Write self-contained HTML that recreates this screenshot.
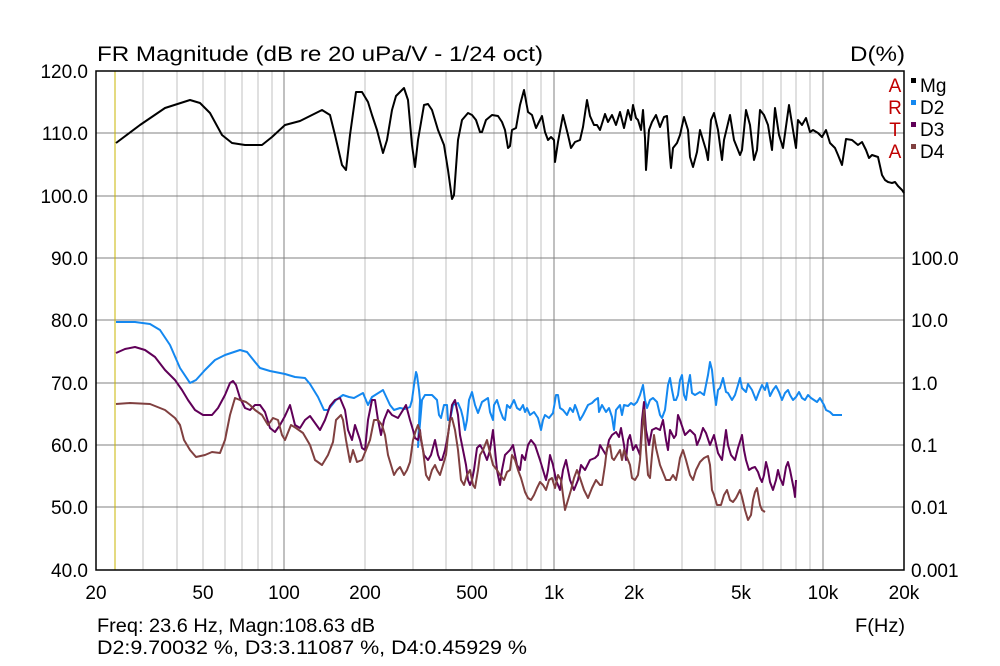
<!DOCTYPE html>
<html><head><meta charset="utf-8"><style>
body{margin:0;background:#fff}
svg{display:block;font-family:"Liberation Sans",Arial,sans-serif}
</style></head><body>
<svg width="1000" height="666" viewBox="0 0 1000 666" xmlns="http://www.w3.org/2000/svg">
<rect width="1000" height="666" fill="#fff"/>
<g stroke="#c0c0c0" stroke-width="1">
<line x1="143" y1="71" x2="143" y2="570"/><line x1="177" y1="71" x2="177" y2="570"/><line x1="203" y1="71" x2="203" y2="570"/><line x1="225" y1="71" x2="225" y2="570"/><line x1="242" y1="71" x2="242" y2="570"/><line x1="258" y1="71" x2="258" y2="570"/><line x1="272" y1="71" x2="272" y2="570"/>
<line x1="365" y1="71" x2="365" y2="570"/><line x1="413" y1="71" x2="413" y2="570"/><line x1="446" y1="71" x2="446" y2="570"/><line x1="472" y1="71" x2="472" y2="570"/><line x1="494" y1="71" x2="494" y2="570"/><line x1="512" y1="71" x2="512" y2="570"/><line x1="527" y1="71" x2="527" y2="570"/><line x1="541" y1="71" x2="541" y2="570"/>
<line x1="634" y1="71" x2="634" y2="570"/><line x1="682" y1="71" x2="682" y2="570"/><line x1="715" y1="71" x2="715" y2="570"/><line x1="741" y1="71" x2="741" y2="570"/><line x1="763" y1="71" x2="763" y2="570"/><line x1="781" y1="71" x2="781" y2="570"/><line x1="796" y1="71" x2="796" y2="570"/><line x1="810" y1="71" x2="810" y2="570"/>
</g>
<g stroke="#808080" stroke-width="1">
<line x1="284" y1="71" x2="284" y2="570"/><line x1="554" y1="71" x2="554" y2="570"/><line x1="823" y1="71" x2="823" y2="570"/>
<line x1="96" y1="133" x2="904" y2="133"/><line x1="96" y1="196" x2="904" y2="196"/><line x1="96" y1="258" x2="904" y2="258"/><line x1="96" y1="320" x2="904" y2="320"/><line x1="96" y1="383" x2="904" y2="383"/><line x1="96" y1="445" x2="904" y2="445"/><line x1="96" y1="507" x2="904" y2="507"/>
</g>
<line x1="115" y1="71" x2="115" y2="570" stroke="#c8b400" stroke-width="1"/>
<rect x="96" y="71" width="808" height="499" fill="none" stroke="#000" stroke-width="1.5"/>
<g fill="none" stroke-width="2" stroke-linejoin="round">
<polyline stroke="#1488f0" points="116,322 135,322 150,324 160,330 170,345 180,368 190,383 196,380 205,370 215,360 225,355 240,350 247,352 255,362 260,368 270,371 285,374 295,377 305,378 310,384 318,397 324,410 328,410 332,405 336,400 343,395 349,397 354,398 363,393 368,405 372,397 383,390 390,405 394,410 400,408 405,409 410,407 412,400 414,385 416,372 417,375 419,390 420,400 418,447 422,400 425,395 432,395 437,400 439,415 441,418 444,405 447,405 448,420 450,420 453,405 458,403 461,410 463,418 465,430 467,420 469,400 472,392 475,405 478,413 482,402 485,400 488,398 490,412 493,420 494,405 497,400 500,410 503,418 505,420 507,405 510,408 514,400 517,408 520,410 523,405 525,412 527,408 530,415 534,412 538,418 541,430 543,420 545,415 549,418 553,413 556,395 558,395 560,408 563,410 567,415 570,408 573,412 575,405 577,410 580,420 583,415 588,405 592,403 595,400 598,398 599,412 602,405 606,412 609,408 612,417 614,430 616,410 620,405 622,415 624,405 628,406 631,403 634,405 637,402 640,395 643,385 645,400 647,408 650,400 653,398 657,402 660,415 662,418 665,410 668,385 670,378 672,390 674,400 676,400 678,395 680,380 682,375 684,395 686,400 688,385 690,375 692,393 695,395 700,392 704,395 706,385 708,375 710,362 712,370 714,390 716,405 718,390 720,388 723,378 726,392 728,393 732,400 735,395 738,385 740,378 742,388 746,392 748,384 752,390 756,400 759,392 762,385 765,390 767,383 770,396 773,390 776,386 779,392 782,400 785,393 788,390 790,395 793,400 796,397 799,392 802,398 805,400 808,395 811,398 814,400 817,402 820,398 824,405 826,410 830,412 833,415 842,415"/>
<polyline stroke="#600058" points="116,353 125,349 135,347 145,350 155,357 165,370 175,380 182,390 188,400 195,410 203,415 212,415 218,408 225,395 230,383 233,381 236,385 240,398 245,408 250,410 255,405 260,405 265,412 270,428 275,432 280,425 285,416 290,405 295,425 300,428 305,420 310,416 315,423 320,430 325,420 330,406 335,400 340,398 345,410 348,430 352,440 355,425 360,440 362,448 365,450 368,420 372,400 375,400 378,420 381,435 384,420 388,410 392,415 398,418 403,410 406,405 410,420 413,430 415,438 418,440 420,430 421,440 424,455 428,460 431,455 435,440 438,455 440,460 442,460 445,450 448,435 450,420 452,405 455,400 458,415 460,435 463,450 466,465 468,480 470,485 472,480 474,470 477,448 480,445 483,450 487,460 490,450 493,430 495,450 497,470 500,485 502,470 505,455 510,450 513,445 517,465 520,470 522,455 525,460 528,445 531,440 535,445 540,460 543,470 546,480 548,470 550,455 553,465 556,480 560,490 563,470 566,460 570,480 574,490 578,480 581,465 585,470 590,460 595,458 598,455 600,445 603,450 606,455 609,440 612,435 616,432 619,437 621,428 624,445 626,460 628,440 630,435 633,450 636,445 640,455 642,420 644,402 646,430 649,445 652,430 656,428 660,430 663,420 666,440 668,450 670,430 674,438 676,435 678,415 680,420 685,435 690,430 695,435 697,445 700,438 703,428 706,433 710,445 714,435 718,453 722,460 724,445 726,430 728,445 731,455 735,460 738,448 742,435 744,450 746,460 749,470 752,468 755,467 758,472 760,478 762,482 764,475 766,462 768,470 770,482 773,490 776,480 778,470 780,478 783,485 786,467 788,462 790,470 792,480 794,490 795,497 796,480"/>
<polyline stroke="#804040" points="116,404 130,403 150,404 165,410 175,418 180,425 184,440 190,450 196,457 205,455 212,452 220,453 225,440 230,415 235,398 240,400 246,402 250,405 255,410 262,415 268,425 273,418 278,420 282,435 285,440 291,425 296,428 303,433 310,445 315,460 322,465 328,455 333,442 336,420 341,415 343,420 346,440 350,462 353,450 357,462 362,460 366,450 370,440 374,420 378,420 382,425 385,435 388,455 391,465 394,475 397,470 400,467 404,475 407,470 410,462 413,440 416,430 418,425 420,432 423,450 426,475 429,480 432,470 435,465 437,470 440,475 443,465 446,455 448,435 450,420 452,418 455,430 458,450 461,480 464,485 467,475 470,470 473,485 475,488 478,470 480,455 483,450 487,440 490,453 493,465 497,470 500,475 504,480 507,472 510,470 512,455 515,460 518,470 521,478 525,492 528,498 531,500 534,495 537,488 540,482 543,485 546,490 549,480 552,478 555,488 558,475 561,480 563,495 565,510 568,500 571,490 574,478 577,470 580,478 584,490 588,498 592,488 596,480 600,485 602,485 605,465 607,448 610,445 612,458 614,460 617,455 620,450 622,460 624,450 626,455 630,465 632,478 635,480 638,475 640,460 642,432 644,410 646,450 648,475 650,478 652,455 654,435 656,448 660,465 662,470 666,480 670,480 673,475 676,480 678,470 680,458 683,450 686,460 690,475 693,480 696,470 700,462 704,458 708,456 710,465 712,490 714,495 717,505 721,505 724,495 727,490 730,500 733,502 736,498 740,490 742,497 745,510 748,520 751,515 753,500 755,492 757,488 760,505 762,510 765,512"/>
<polyline stroke="#000" points="116,143 140,125 165,108 190,100 200,103 210,113 222,135 232,143 245,145 262,145 272,137 285,125 300,121 322,110 330,115 335,135 342,165 346,170 350,135 356,92 362,92 368,102 372,115 377,130 383,153 387,140 392,110 396,96 404,88 408,100 412,145 415,167 418,140 424,105 428,104 432,110 438,130 444,145 448,170 452,199 454,195 458,140 462,120 468,113 472,115 476,120 480,132 482,132 486,120 492,115 498,116 502,122 505,130 508,148 510,146 512,130 516,128 520,105 524,90 528,112 532,115 536,128 542,116 545,132 548,140 551,137 554,140 555,162 558,142 563,115 568,135 571,148 575,142 580,140 583,127 587,100 590,116 594,125 597,125 600,130 605,114 608,122 612,115 616,125 620,112 624,128 628,110 631,120 633,105 636,118 638,120 641,130 643,110 645,138 646,170 649,130 652,122 656,115 660,127 664,117 667,116 670,157 671,168 673,148 677,143 680,135 684,117 688,130 690,157 693,167 697,152 700,130 706,150 708,160 711,120 714,113 718,130 722,160 724,140 730,115 734,140 740,155 742,150 746,110 750,125 754,160 757,150 760,110 764,115 768,125 772,150 775,108 779,135 783,148 789,105 793,130 796,148 798,120 802,125 806,118 810,132 813,130 818,133 822,137 826,130 830,143 835,148 838,155 842,165 846,139 852,140 858,145 862,142 866,150 869,158 872,155 878,157 882,175 885,180 888,182 892,183 895,182 898,186 902,190 904,193"/>
</g>
<g font-size="21" fill="#000">
<text x="97" y="61" textLength="446" lengthAdjust="spacingAndGlyphs">FR Magnitude (dB re 20 uPa/V - 1/24 oct)</text>
<text x="850" y="61" textLength="55" lengthAdjust="spacingAndGlyphs">D(%)</text>
</g>
<g font-size="19" fill="#000" text-anchor="end">
<text x="88" y="78">120.0</text><text x="88" y="140">110.0</text><text x="88" y="203">100.0</text><text x="88" y="265">90.0</text><text x="88" y="327">80.0</text><text x="88" y="390">70.0</text><text x="88" y="452">60.0</text><text x="88" y="514">50.0</text><text x="88" y="577">40.0</text>
</g>
<g font-size="19" fill="#000">
<text x="911" y="265">100.0</text><text x="911" y="327">10.0</text><text x="911" y="390">1.0</text><text x="911" y="452">0.1</text><text x="911" y="514">0.01</text><text x="911" y="577">0.001</text>
</g>
<g font-size="19" fill="#000" text-anchor="middle">
<text x="96" y="599">20</text><text x="203" y="599">50</text><text x="284" y="599">100</text><text x="365" y="599">200</text><text x="472" y="599">500</text><text x="554" y="599">1k</text><text x="634" y="599">2k</text><text x="741" y="599">5k</text><text x="823" y="599">10k</text><text x="904" y="599">20k</text>
</g>
<g font-size="19" fill="#c00000" text-anchor="middle">
<text x="895" y="92">A</text><text x="895" y="114">R</text><text x="895" y="136">T</text><text x="895" y="158">A</text>
</g>
<rect x="911" y="78" width="5" height="5" fill="#000"/>
<rect x="911" y="100" width="5" height="5" fill="#1488f0"/>
<rect x="911" y="122" width="5" height="5" fill="#600058"/>
<rect x="911" y="144" width="5" height="5" fill="#804040"/>
<g font-size="19" fill="#000">
<text x="920" y="92">Mg</text><text x="920" y="114">D2</text><text x="920" y="136">D3</text><text x="920" y="158">D4</text>
<text x="855" y="632" textLength="50" lengthAdjust="spacingAndGlyphs">F(Hz)</text>
</g>
<g font-size="19" fill="#000">
<text x="97" y="632" textLength="278" lengthAdjust="spacingAndGlyphs">Freq: 23.6 Hz, Magn:108.63 dB</text>
<text x="97" y="654" textLength="430" lengthAdjust="spacingAndGlyphs">D2:9.70032 %, D3:3.11087 %, D4:0.45929 %</text>
</g>
</svg>
</body></html>
